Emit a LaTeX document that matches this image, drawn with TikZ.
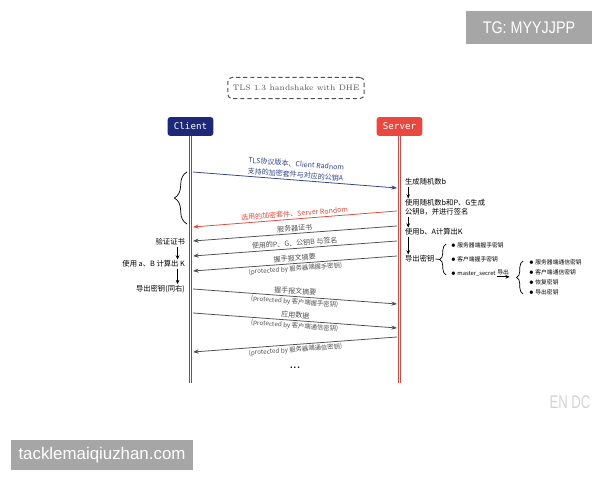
\documentclass[tikz,border=0pt]{standalone}
\usepackage{fontspec}
\newfontfamily\cjk{Noto Sans CJK SC}
\newfontfamily\monofont{DejaVu Sans Mono}
\newfontfamily\wmfont{Liberation Sans}
\usepackage{tikz}
\usetikzlibrary{arrows.meta,positioning,decorations.pathreplacing,calc}
\definecolor{clientblue}{HTML}{1E2878}
\definecolor{serverred}{HTML}{E8483F}
\definecolor{clientline}{HTML}{56587E}
\definecolor{serverline}{HTML}{D9463F}
\definecolor{msgblue}{HTML}{34428A}
\definecolor{msgred}{HTML}{E04A3F}
\definecolor{ink}{HTML}{505050}
\definecolor{wmgray}{HTML}{A6A6A6}
\tikzset{
  titlebox/.style={rectangle, rounded corners=3pt, draw=ink, dash pattern=on 3pt off 2pt, line width=0.7pt,
                   minimum width=88pt, minimum height=15pt, text=ink, font=\fontsize{5.6}{6.5}\selectfont},
  actor/.style={rectangle, rounded corners=2pt, text=white, minimum width=32.5pt, minimum height=13.5pt,
                inner sep=1pt, font=\monofont\fontsize{6.5}{7}\selectfont},
  lifeline/.style={line width=0.45pt, double=white, double distance=1.2pt},
  msg/.style={-{Stealth[length=4pt, width=3pt]}, draw=ink, line width=0.55pt},
  lbl/.style={font=\cjk\fontsize{5}{6.4}\selectfont, text=ink, inner sep=1.2pt},
  prot/.style={font=\cjk\fontsize{4.5}{5.5}\selectfont, text=ink, inner sep=1.2pt},
  note/.style={font=\cjk\fontsize{5.2}{6.4}\selectfont, inner sep=0.6pt, align=left},
  item/.style={font=\cjk\fontsize{4.1}{5}\selectfont, inner sep=0.5pt, anchor=west},
  flowdown/.style={-{Stealth[length=3pt, width=2.6pt]}, line width=0.6pt},
  brc/.style={decorate, decoration={brace, amplitude=#1}, line width=0.5pt},
  wm/.style={rectangle, fill=wmgray, text=white, font=\wmfont\fontsize{12}{13}\selectfont},
}
\begin{document}
\begin{tikzpicture}[x=0.025cm, y=-0.025cm]
\useasboundingbox (0,0) rectangle (600,480);

\node[titlebox] (title) at (296,88) {TLS 1.3 handshake with DHE};
\node[actor, fill=clientblue] (client) at (190.5,126.5) {Client};
\node[actor, fill=serverred] (server) at (399.5,126.5) {Server};
\coordinate (cend) at (190.5,383);
\coordinate (send) at (399.5,383);
\draw[lifeline, draw=clientline] (client.south) -- (cend);
\draw[lifeline, draw=serverline] (server.south) -- (send);

% messages
\coordinate (c1) at (193,172); \coordinate (s1) at (397,188);
\coordinate (s2) at (397,211); \coordinate (c2) at (193,227);
\coordinate (s3) at (397,226); \coordinate (c3) at (193,241);
\coordinate (s4) at (397,241); \coordinate (c4) at (193,256);
\coordinate (s5) at (397,256); \coordinate (c5) at (193,271);
\coordinate (c6) at (193,289); \coordinate (s6) at (397,304);
\coordinate (c7) at (193,313); \coordinate (s7) at (397,328);
\coordinate (s8) at (397,337); \coordinate (c8) at (193,352);

\draw[msg, draw=msgblue] (c1) -- node[lbl, above, sloped, align=center, text=msgblue]
  {TLS协议版本、Client Radnom\\[1.2pt]支持的加密套件与对应的公钥A} (s1);
\draw[msg, draw=msgred] (s2) -- node[lbl, above, sloped, text=msgred] {选用的加密套件、Server Rondom} (c2);
\draw[msg] (s3) -- node[lbl, above, sloped] {服务器证书} (c3);
\draw[msg] (s4) -- node[lbl, above, sloped] {使用的P、G、公钥B 与签名} (c4);
\draw[msg] (s5) -- node[lbl, above, sloped] {握手报文摘要}
  node[prot, below, sloped] {(protected by 服务器端握手密钥)} (c5);
\draw[msg] (c6) -- node[lbl, above, sloped] {握手报文摘要}
  node[prot, below, sloped] {(protected by 客户端握手密钥)} (s6);
\draw[msg] (c7) -- node[lbl, above, sloped] {应用数据}
  node[prot, below, sloped] {(protected by 客户端通信密钥)} (s7);
\draw[msg] (s8) -- node[prot, below, sloped] {(protected by 服务器端通信密钥)} (c8);
\node[font=\bfseries\fontsize{7}{8}\selectfont] (dots) at (295,368) {...};

\coordinate (b1) at (187,224); \coordinate (b2) at (187,172);
\draw[brc=9pt] (b1) -- (b2);

% client side
\node[note, anchor=east] (cn1) at (186,242) {验证证书};
\node[note, anchor=east] (cn2) at (186,264) {使用 a、B 计算出 K};
\node[note, anchor=east] (cn3) at (186,289) {导出密钥(同右)};
\draw[flowdown] ([xshift=-6pt]cn1.south east) -- ([xshift=-6pt]cn2.north east);
\draw[flowdown] ([xshift=-6pt]cn2.south east) -- ([xshift=-6pt]cn3.north east);

% server side
\node[note, anchor=west] (sn1) at (404,182) {生成随机数b};
\node[note, anchor=west] (sn2) at (404,207.5) {使用随机数b和P、G生成\\公钥B，并进行签名};
\node[note, anchor=west] (sn3) at (404,232) {使用b、A计算出K};
\node[note, anchor=west] (sn4) at (404,259) {导出密钥};
\draw[flowdown] ([xshift=3pt]sn1.south west) -- ([xshift=3pt]sn2.north west);
\draw[flowdown] ([xshift=3pt]sn2.south west) -- ([xshift=3pt]sn3.north west);
\draw[flowdown] ([xshift=3pt]sn3.south west) -- ([xshift=3pt]sn4.north west);

\coordinate (k1b) at (446,275); \coordinate (k1t) at (446,244);
\coordinate (k1tip) at (440,259.5);
\draw[brc=4.5pt] (k1b) -- (k1t);
\draw[line width=0.5pt] (sn4.east) -- (k1tip);
\node[item] (k1) at (450,245) {$\bullet$\ 服务器端握手密钥};
\node[item] (k2) at (450,259.5) {$\bullet$\ 客户端握手密钥};
\node[item] (k3) at (450,274) {$\bullet$\ master\_secret};
\draw[flowdown] ([yshift=-2pt]k3.east) -- ++(13,0) node[item, midway, above=0.5pt, anchor=south] {导出};

\coordinate (k2b) at (523,294); \coordinate (k2t) at (523,261);
\draw[brc=4.5pt] (k2b) -- (k2t);
\node[item] (t1) at (528,262) {$\bullet$\ 服务器端通信密钥};
\node[item] (t2) at (528,272) {$\bullet$\ 客户端通信密钥};
\node[item] (t3) at (528,282) {$\bullet$\ 恢复密钥};
\node[item] (t4) at (528,292.5) {$\bullet$\ 导出密钥};

% watermarks
\node[wm, minimum width=89pt, minimum height=23pt] (tg) at (529,27.5) {\scalebox{0.85}[1]{TG: MYYJJPP}};
\node[wm, minimum width=130pt, minimum height=21pt] (site) at (102,455) {tacklemaiqiuzhan.com};
\node[text=gray!35, font=\wmfont\fontsize{13}{14}\selectfont] (endc) at (570,402) {\scalebox{0.72}[1]{EN DC}};
\end{tikzpicture}
\end{document}
